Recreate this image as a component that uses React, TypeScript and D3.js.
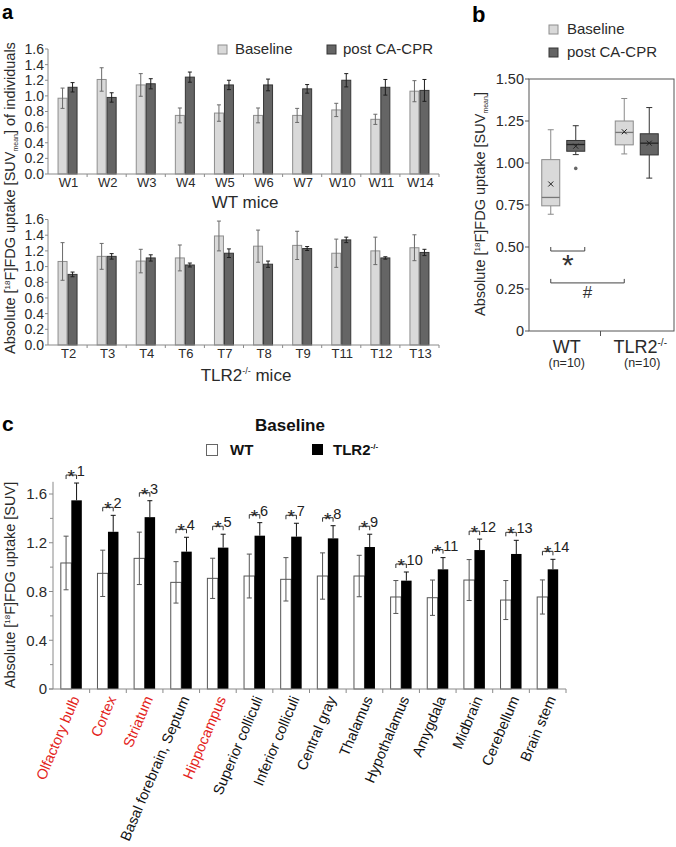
import React from 'react';
import * as d3 from 'd3';

const FONT = "'Liberation Sans', Arial, Helvetica, sans-serif";

// ---- panel a: individual animals, baseline vs post CA-CPR
const wtMice = ['W1', 'W2', 'W3', 'W4', 'W5', 'W6', 'W7', 'W10', 'W11', 'W14'];
const wtBaseline = [0.97, 1.21, 1.14, 0.75, 0.78, 0.75, 0.75, 0.82, 0.7, 1.06];
const wtBaselineErr = [0.13, 0.15, 0.145, 0.095, 0.105, 0.095, 0.09, 0.085, 0.065, 0.135];
const wtPost = [1.11, 0.98, 1.155, 1.24, 1.14, 1.14, 1.09, 1.2, 1.11, 1.07];
const wtPostErr = [0.06, 0.06, 0.065, 0.065, 0.06, 0.075, 0.055, 0.085, 0.1, 0.14];

const tlrMice = ['T2', 'T3', 'T4', 'T6', 'T7', 'T8', 'T9', 'T11', 'T12', 'T13'];
const tlrBaseline = [1.065, 1.13, 1.07, 1.11, 1.39, 1.26, 1.27, 1.17, 1.2, 1.24];
const tlrBaselineErr = [0.24, 0.165, 0.15, 0.165, 0.19, 0.205, 0.18, 0.18, 0.175, 0.165];
const tlrPost = [0.9, 1.13, 1.11, 1.02, 1.17, 1.03, 1.23, 1.34, 1.11, 1.18];
const tlrPostErr = [0.03, 0.035, 0.04, 0.025, 0.055, 0.04, 0.025, 0.035, 0.015, 0.04];

const aTicks = [0, 0.2, 0.4, 0.6, 0.8, 1.0, 1.2, 1.4, 1.6];

// ---- panel b: box plots (WT baseline, WT post, TLR2 baseline, TLR2 post)
const boxGroups = ['WT', 'TLR2'];
const boxMin = [0.695, 1.05, 1.054, 0.91];
const boxQ1 = [0.745, 1.07, 1.108, 1.048];
const boxMedian = [0.795, 1.11, 1.182, 1.118];
const boxQ3 = [1.02, 1.134, 1.25, 1.174];
const boxMax = [1.198, 1.222, 1.384, 1.33];
const boxMean = [0.875, 1.1, 1.186, 1.118];
const boxOutliers = [[], [0.968], [], []];
const bTicks = [0, 0.25, 0.5, 0.75, 1.0, 1.25, 1.5];

// ---- panel c: regional uptake at baseline
const regions = [
  'Olfactory bulb', 'Cortex', 'Striatum', 'Basal forebrain, Septum', 'Hippocampus',
  'Superior colliculi', 'Inferior colliculi', 'Central gray', 'Thalamus', 'Hypothalamus',
  'Amygdala', 'Midbrain', 'Cerebellum', 'Brain stem',
];
const redRegions = ['Olfactory bulb', 'Cortex', 'Striatum', 'Hippocampus'];
const regionWT = [1.034, 0.949, 1.072, 0.875, 0.908, 0.927, 0.9, 0.927, 0.927, 0.755, 0.749, 0.894, 0.73, 0.755];
const regionWTErr = [0.22, 0.19, 0.215, 0.17, 0.165, 0.18, 0.178, 0.19, 0.17, 0.135, 0.145, 0.168, 0.16, 0.14];
const regionTLR = [1.548, 1.29, 1.41, 1.127, 1.16, 1.258, 1.25, 1.236, 1.165, 0.889, 0.982, 1.14, 1.108, 0.982];
const regionTLRErr = [0.142, 0.135, 0.135, 0.118, 0.11, 0.107, 0.11, 0.104, 0.105, 0.071, 0.096, 0.09, 0.112, 0.082];
const sigLabels = ['1', '2', '3', '4', '5', '6', '7', '8', '9', '10', '11', '12', '13', '14'];
const cMajorTicks = [0, 0.4, 0.8, 1.2, 1.6];
const cMinorTicks = [0.2, 0.6, 1.0, 1.4];

const LIGHT = '#d9d9d9';
const LIGHT_STROKE = '#8e8e8e';
const DARK = '#656565';
const DARK_STROKE = '#363636';
const AXIS = '#8a8a8a';
const TXT = '#2a2a2a';

function IndividualBars({ cats, base, baseErr, post, postErr, y0, y1 }: any) {
  const x = d3.scaleBand<string>().domain(cats).range([48, 439]);
  const y = d3.scaleLinear().domain([0, 1.6]).range([y0, y1]);
  const bw = 9;
  const half = x.bandwidth() / 2;
  return (
    <g>
      <line x1={48} x2={48} y1={y(1.6)} y2={y(0)} stroke={AXIS} />
      {aTicks.map((t) => (
        <g key={t}>
          <line x1={45} x2={48} y1={y(t)} y2={y(t)} stroke={AXIS} />
          <text x={44} y={y(t)} dy="0.35em" textAnchor="end" fontSize={14} fill={TXT}>
            {t.toFixed(1)}
          </text>
        </g>
      ))}
      {cats.map((c: string, i: number) => {
        const cx = (x(c) ?? 0) + half;
        return (
          <g key={c}>
            <rect x={cx - bw - 0.5} y={y(base[i])} width={bw} height={y(0) - y(base[i])}
              fill={LIGHT} stroke={LIGHT_STROKE} />
            <rect x={cx + 0.5} y={y(post[i])} width={bw} height={y(0) - y(post[i])}
              fill={DARK} stroke={DARK_STROKE} />
            <g stroke="#6a6a6a">
              <line x1={cx - 5} x2={cx - 5} y1={y(base[i] - baseErr[i])} y2={y(base[i] + baseErr[i])} />
              <line x1={cx - 7} x2={cx - 3} y1={y(base[i] + baseErr[i])} y2={y(base[i] + baseErr[i])} />
              <line x1={cx - 7} x2={cx - 3} y1={y(base[i] - baseErr[i])} y2={y(base[i] - baseErr[i])} />
            </g>
            <g stroke="#1e1e1e">
              <line x1={cx + 5} x2={cx + 5} y1={y(post[i] - postErr[i])} y2={y(post[i] + postErr[i])} />
              <line x1={cx + 3} x2={cx + 7} y1={y(post[i] + postErr[i])} y2={y(post[i] + postErr[i])} />
              <line x1={cx + 3} x2={cx + 7} y1={y(post[i] - postErr[i])} y2={y(post[i] - postErr[i])} />
            </g>
            <text x={cx + 1} y={y(0) + 13} textAnchor="middle" fontSize={13} fill={TXT}>{c}</text>
          </g>
        );
      })}
      <line x1={48} x2={439} y1={y(0)} y2={y(0)} stroke={AXIS} />
      {cats.map((c: string) => {
        const bx = (x(c) ?? 0) + x.bandwidth();
        return <line key={c} x1={bx} x2={bx} y1={y(0)} y2={y(0) + 3} stroke={AXIS} />;
      })}
    </g>
  );
}

function BoxPanel() {
  const x = d3.scaleBand<string>().domain(boxGroups).range([527, 674]);
  const y = d3.scaleLinear().domain([0, 1.5]).range([331, 79]);
  const offs = [-13, 12];
  const bw = 18;
  const centers: number[] = [];
  boxGroups.forEach((g) => {
    const c = (x(g) ?? 0) + x.bandwidth() / 2;
    offs.forEach((o) => centers.push(c + o));
  });
  const mid = (x('TLR2') ?? 0);
  return (
    <g>
      <rect x={529} y={y(1.5)} width={674 - 529} height={y(0) - y(1.5)} fill="none" stroke="#555" />
      {bTicks.map((t) => (
        <g key={t}>
          <line x1={525} x2={529} y1={y(t)} y2={y(t)} stroke="#555" />
          <text x={524} y={y(t)} dy="0.35em" textAnchor="end" fontSize={14.5} fill={TXT}>
            {t === 0 ? '0' : t.toFixed(2)}
          </text>
        </g>
      ))}
      <line x1={mid} x2={mid} y1={y(0)} y2={y(0) + 5} stroke="#555" />
      {centers.map((cx, i) => {
        const light = i % 2 === 0;
        const fill = light ? LIGHT : DARK;
        const stroke = light ? '#8a8a8a' : '#333';
        return (
          <g key={i}>
            <line x1={cx} x2={cx} y1={y(boxMax[i])} y2={y(boxQ3[i])} stroke={stroke} />
            <line x1={cx} x2={cx} y1={y(boxQ1[i])} y2={y(boxMin[i])} stroke={stroke} />
            <line x1={cx - 3} x2={cx + 3} y1={y(boxMax[i])} y2={y(boxMax[i])} stroke={stroke} />
            <line x1={cx - 3} x2={cx + 3} y1={y(boxMin[i])} y2={y(boxMin[i])} stroke={stroke} />
            <rect x={cx - bw / 2} y={y(boxQ3[i])} width={bw} height={y(boxQ1[i]) - y(boxQ3[i])}
              fill={fill} stroke={stroke} />
            <line x1={cx - bw / 2} x2={cx + bw / 2} y1={y(boxMedian[i])} y2={y(boxMedian[i])}
              stroke={light ? '#777' : '#222'} strokeWidth={1.3} />
            <g stroke="#222" strokeWidth={1}>
              <line x1={cx - 2.5} x2={cx + 2.5} y1={y(boxMean[i]) - 2.5} y2={y(boxMean[i]) + 2.5} />
              <line x1={cx - 2.5} x2={cx + 2.5} y1={y(boxMean[i]) + 2.5} y2={y(boxMean[i]) - 2.5} />
            </g>
            {boxOutliers[i].map((o, k) => (
              <circle key={k} cx={cx} cy={y(o)} r={1.8} fill="#666" />
            ))}
          </g>
        );
      })}
      {/* significance brackets */}
      <g stroke="#444" fill="none">
        <path d={`M${centers[0]},${y(0.5)}V${y(0.5) + 4}H${centers[1] + bw / 2}V${y(0.5)}`} />
        <path d={`M${centers[0]},${y(0.31)}V${y(0.31) + 4}H${centers[2]}V${y(0.31)}`} />
      </g>
      <text x={(centers[0] + centers[1] + bw / 2) / 2} y={y(0.5) + 28} textAnchor="middle" fontSize={30} fill="#333">*</text>
      <text x={(centers[0] + centers[2]) / 2} y={y(0.31) + 19} textAnchor="middle" fontSize={17} fill="#333">#</text>
      {/* x labels */}
      <text x={(x('WT') ?? 0) + x.bandwidth() / 2 + 3} y={353} textAnchor="middle" fontSize={18} fill={TXT}>WT</text>
      <text x={(x('TLR2') ?? 0) + x.bandwidth() / 2 + 3} y={353} textAnchor="middle" fontSize={18} fill={TXT}>
        TLR2<tspan dy={-7} fontSize={10}>-/-</tspan>
      </text>
      <text x={(x('WT') ?? 0) + x.bandwidth() / 2 + 3} y={367} textAnchor="middle" fontSize={12.5} fill={TXT}>(n=10)</text>
      <text x={(x('TLR2') ?? 0) + x.bandwidth() / 2 + 5} y={367} textAnchor="middle" fontSize={12.5} fill={TXT}>(n=10)</text>
      {/* legend */}
      <rect x={549} y={25} width={9} height={9} fill={LIGHT} stroke={LIGHT_STROKE} />
      <text x={567} y={34} fontSize={15} fill={TXT}>Baseline</text>
      <rect x={549} y={48} width={9} height={9} fill={DARK} stroke={DARK_STROKE} />
      <text x={567} y={57} fontSize={15} fill={TXT}>post CA-CPR</text>
      <text transform="translate(485,204) rotate(-90)" textAnchor="middle" fontSize={14.5} fill={TXT}>
        Absolute [<tspan dy={-5} fontSize={8}>18</tspan><tspan dy={5}>F]FDG uptake [SUV</tspan>
        <tspan dy={3} fontSize={7}>mean</tspan><tspan dy={-3}>]</tspan>
      </text>
    </g>
  );
}

function RegionPanel() {
  const x = d3.scaleBand<string>().domain(regions).range([53, 566]);
  const y = d3.scaleLinear().domain([0, 1.6]).range([689, 494]);
  const bw = 10.5;
  const half = x.bandwidth() / 2;
  return (
    <g>
      <line x1={53} x2={53} y1={y(1.7)} y2={y(0)} stroke={AXIS} />
      {cMajorTicks.map((t) => (
        <g key={t}>
          <line x1={49} x2={53} y1={y(t)} y2={y(t)} stroke={AXIS} />
          <text x={47} y={y(t)} dy="0.35em" textAnchor="end" fontSize={15} fill={TXT}>
            {t === 0 ? '0' : t.toFixed(1)}
          </text>
        </g>
      ))}
      {cMinorTicks.map((t) => (
        <line key={t} x1={50} x2={53} y1={y(t)} y2={y(t)} stroke={AXIS} />
      ))}
      {regions.map((r, i) => {
        const cx = (x(r) ?? 0) + half;
        const wc = cx - bw / 2;
        const tc = cx + bw / 2;
        const top = y(regionTLR[i] + regionTLRErr[i]);
        const by = top - 8;
        return (
          <g key={r}>
            <rect x={cx - bw} y={y(regionWT[i])} width={bw} height={y(0) - y(regionWT[i])}
              fill="#fff" stroke="#555" />
            <rect x={cx} y={y(regionTLR[i])} width={bw} height={y(0) - y(regionTLR[i])} fill="#000" />
            <g stroke="#555">
              <line x1={wc} x2={wc} y1={y(regionWT[i] - regionWTErr[i])} y2={y(regionWT[i] + regionWTErr[i])} />
              <line x1={wc - 2.5} x2={wc + 2.5} y1={y(regionWT[i] + regionWTErr[i])} y2={y(regionWT[i] + regionWTErr[i])} />
              <line x1={wc - 2.5} x2={wc + 2.5} y1={y(regionWT[i] - regionWTErr[i])} y2={y(regionWT[i] - regionWTErr[i])} />
            </g>
            <g stroke="#111">
              <line x1={tc} x2={tc} y1={y(regionTLR[i])} y2={top} />
              <line x1={tc - 2.5} x2={tc + 2.5} y1={top} y2={top} />
            </g>
            <path d={`M${wc},${by + 4}V${by}H${tc}V${by + 4}`} fill="none" stroke="#333" />
            <text x={cx} y={by + 8} textAnchor="middle" fontSize={19} fill="#222">*</text>
            <text x={cx + 5.5} y={by + 1} fontSize={14.5} fill="#222">{sigLabels[i]}</text>
            <text transform={`translate(${cx + 4.5},697) rotate(-67)`} textAnchor="end" dy="0.3em"
              fontSize={14.5} fill={redRegions.includes(r) ? '#e3231b' : '#111'}>
              {r}
            </text>
          </g>
        );
      })}
      <line x1={49} x2={566} y1={y(0)} y2={y(0)} stroke={AXIS} />
      {regions.map((r) => {
        const bx = (x(r) ?? 0) + x.bandwidth();
        return <line key={r} x1={bx} x2={bx} y1={y(0)} y2={y(0) + 4} stroke={AXIS} />;
      })}
      {/* legend */}
      <text x={290} y={431} textAnchor="middle" fontSize={17} fontWeight="bold" fill="#111">Baseline</text>
      <rect x={206.5} y={444.5} width={11} height={11} fill="#fff" stroke="#666" />
      <text x={230} y={455} fontSize={15} fontWeight="bold" fill="#111">WT</text>
      <rect x={312} y={444} width={11} height={11} fill="#000" />
      <text x={333} y={455} fontSize={15} fontWeight="bold" fill="#111">
        TLR2<tspan dy={-6} fontSize={8}>-/-</tspan>
      </text>
      <text transform="translate(15,585) rotate(-90)" textAnchor="middle" fontSize={14.5} fill={TXT}>
        Absolute [<tspan dy={-5} fontSize={8}>18</tspan><tspan dy={5}>F]FDG uptake [SUV]</tspan>
      </text>
    </g>
  );
}

export default function App() {
  return (
    <svg width={676} height={847} style={{ position: 'absolute', left: 0, top: 0, background: '#fff' }}
      fontFamily={FONT}>
      <text x={2} y={19} fontSize={20} fontWeight="bold">a</text>
      <text x={472} y={22} fontSize={22} fontWeight="bold">b</text>
      <text x={2} y={431} fontSize={21} fontWeight="bold">c</text>

      <IndividualBars cats={wtMice} base={wtBaseline} baseErr={wtBaselineErr} post={wtPost}
        postErr={wtPostErr} y0={174} y1={49} />
      <IndividualBars cats={tlrMice} base={tlrBaseline} baseErr={tlrBaselineErr} post={tlrPost}
        postErr={tlrPostErr} y0={345} y1={219.5} />
      <text x={245} y={208} textAnchor="middle" fontSize={17} fill={TXT}>WT mice</text>
      <text x={246} y={381} textAnchor="middle" fontSize={17} fill={TXT}>
        TLR2<tspan dy={-7} fontSize={9}>-/-</tspan><tspan dy={7}> mice</tspan>
      </text>
      <rect x={218} y={45} width={9} height={9} fill={LIGHT} stroke={LIGHT_STROKE} />
      <text x={235} y={54} fontSize={15} fill={TXT}>Baseline</text>
      <rect x={327} y={45} width={9} height={9} fill={DARK} stroke={DARK_STROKE} />
      <text x={343} y={54} fontSize={15} fill={TXT}>post CA-CPR</text>
      <text transform="translate(15,198) rotate(-90)" textAnchor="middle" fontSize={14.5} fill={TXT}>
        Absolute [<tspan dy={-5} fontSize={8}>18</tspan><tspan dy={5}>F]FDG uptake [SUV</tspan>
        <tspan dy={3} fontSize={7}>mean</tspan><tspan dy={-3}>] of individuals</tspan>
      </text>

      <BoxPanel />
      <RegionPanel />
    </svg>
  );
}
